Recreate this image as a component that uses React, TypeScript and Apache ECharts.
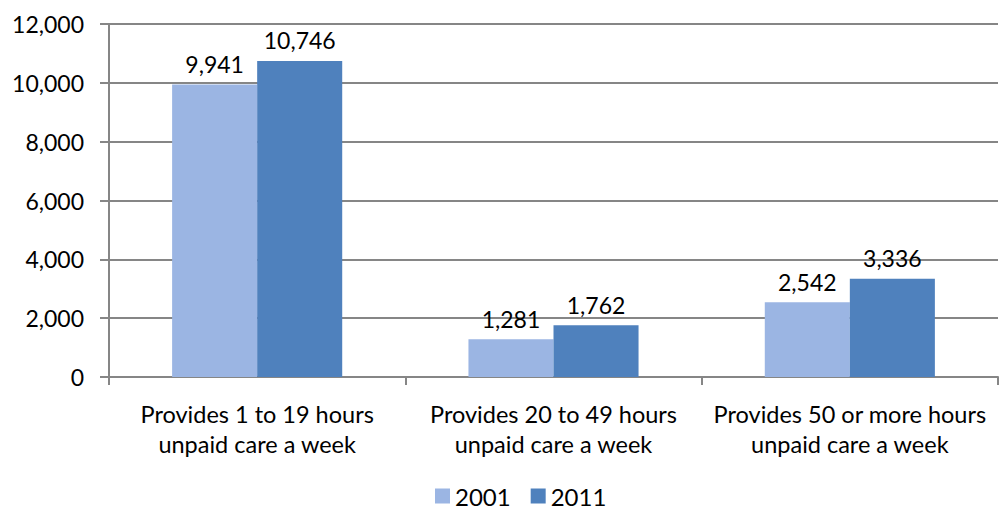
import React, { useEffect, useRef } from "react";
import * as echarts from "echarts";

const categories = [
  "Provides 1 to 19 hours\nunpaid care a week",
  "Provides 20 to 49 hours\nunpaid care a week",
  "Provides 50 or more hours\nunpaid care a week",
];
const series2001 = [9941, 1281, 2542];
const series2011 = [10746, 1762, 3336];
const seriesNames = ["2001", "2011"];

const FONT = "Lato, 'Open Sans', sans-serif";

export default function App() {
  const ref = useRef<HTMLDivElement>(null);
  useEffect(() => {
    if (!ref.current) return;
    const chart = echarts.init(ref.current, null, { renderer: "svg" });
    const label = {
      show: true,
      position: "top",
      distance: 9,
      color: "#000",
      fontSize: 23,
      fontFamily: FONT,
      formatter: (p: any) => Number(p.value).toLocaleString("en-US"),
    };
    chart.setOption({
      animation: false,
      textStyle: { fontFamily: FONT },
      grid: { left: 109, right: 2, top: 24, bottom: 134, containLabel: false },
      legend: {
        top: 479,
        left: 430,
        itemWidth: 15,
        itemHeight: 15,
        itemGap: 20,
        icon: "rect",
        textStyle: { fontSize: 24, color: "#000", fontFamily: FONT },
        data: seriesNames,
      },
      xAxis: {
        type: "category",
        data: categories,
        axisLine: { show: true, lineStyle: { color: "#868686", width: 2 } },
        axisTick: { show: true, length: 8, alignWithLabel: false, lineStyle: { color: "#868686", width: 2 } },
        axisLabel: { color: "#000", fontSize: 23.5, fontFamily: FONT, margin: 22, lineHeight: 30, interval: 0 },
      },
      yAxis: {
        type: "value",
        min: 0,
        max: 12000,
        interval: 2000,
        axisLine: { show: true, lineStyle: { color: "#868686", width: 2 } },
        axisTick: { show: true, length: 9, lineStyle: { color: "#868686", width: 2 } },
        splitLine: { show: true, lineStyle: { color: "#868686", width: 2 } },
        axisLabel: {
          color: "#000",
          fontSize: 23,
          fontFamily: FONT,
          margin: 25,
          formatter: (v: number) => v.toLocaleString("en-US"),
        },
      },
      series: [
        {
          name: seriesNames[0],
          type: "bar",
          data: series2001,
          barGap: "0%",
          barCategoryGap: "42.6%",
          itemStyle: { color: "#9BB5E3" },
          label,
        },
        {
          name: seriesNames[1],
          type: "bar",
          data: series2011,
          barGap: "0%",
          barCategoryGap: "42.6%",
          itemStyle: { color: "#4F81BD" },
          label,
        },
      ],
    });
    return () => chart.dispose();
  }, []);
  return <div ref={ref} style={{ width: 1000, height: 511, position: "absolute", left: 0, top: 0 }} />;
}
